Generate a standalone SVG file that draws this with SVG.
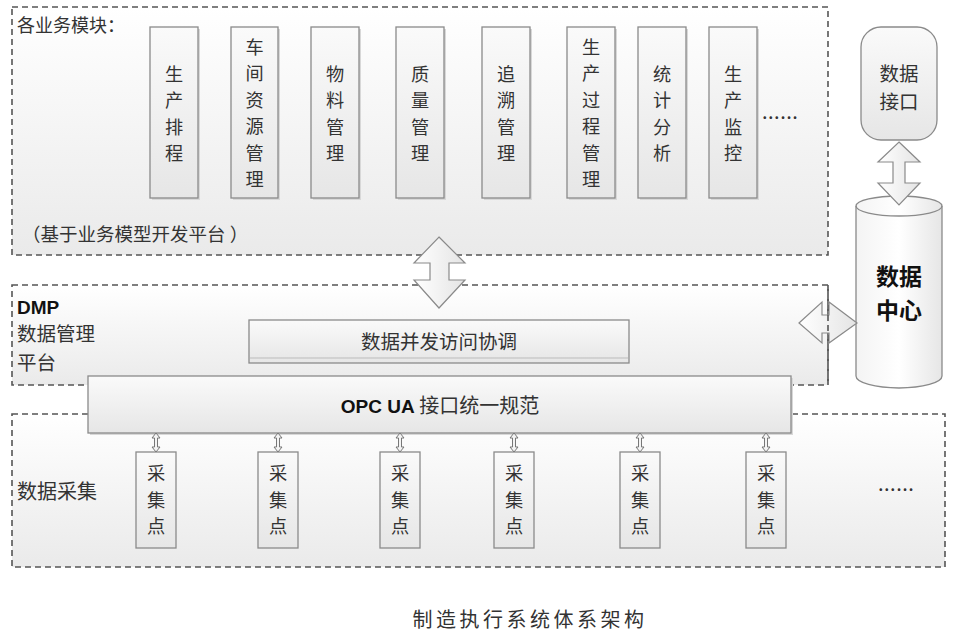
<svg xmlns="http://www.w3.org/2000/svg" width="956" height="637" viewBox="0 0 956 637">
<defs>
<linearGradient id="gPanel" x1="0" y1="0" x2="0" y2="1"><stop offset="0" stop-color="#ffffff"/><stop offset="1" stop-color="#eaeaea"/></linearGradient>
<linearGradient id="gBox" x1="0" y1="0" x2="0" y2="1"><stop offset="0" stop-color="#fafafa"/><stop offset="1" stop-color="#e6e6e6"/></linearGradient>
<linearGradient id="gArrow" x1="0" y1="0" x2="1" y2="0"><stop offset="0" stop-color="#ffffff"/><stop offset="1" stop-color="#e4e4e4"/></linearGradient>
<linearGradient id="gCyl" x1="0" y1="0" x2="1" y2="0"><stop offset="0" stop-color="#f4f4f4"/><stop offset="0.5" stop-color="#ffffff"/><stop offset="1" stop-color="#e6e6e6"/></linearGradient>
</defs>
<style>
.panel{fill:url(#gPanel);stroke:#555;stroke-width:1.6;stroke-dasharray:6 4}
.dash{fill:none;stroke:#555;stroke-width:1.6;stroke-dasharray:6 4}
.box{fill:url(#gBox);stroke:#8a8a8a;stroke-width:1.3}
.shadow{fill:#d8d8d8}
.arrow{fill:url(#gArrow);stroke:#8a8a8a;stroke-width:1.2}
.t{font-family:"Noto Sans CJK SC","Liberation Sans",sans-serif;fill:#333}
.m{font-size:18.2px;text-anchor:middle}
.c{font-size:18.2px;text-anchor:middle}
.b{font-family:"Liberation Sans","Noto Sans CJK SC",sans-serif;font-weight:bold;fill:#111}
</style>
<rect width="956" height="637" fill="#ffffff"/>

<g id="panel-modules">
<rect class="panel" x="12" y="7" width="816" height="248"/>
<text class="t" x="17" y="32" font-size="18">各业务模块：</text>
<text class="t" x="22" y="241" font-size="18.5">（基于业务模型开发平台 ）</text>
</g>

<g id="mod-1"><rect class="shadow" x="152" y="29" width="48" height="171"/><rect class="box" x="150" y="27" width="48" height="171"/>
<text class="t m"><tspan x="174" y="80.5">生</tspan><tspan x="174" y="107">产</tspan><tspan x="174" y="133.5">排</tspan><tspan x="174" y="160">程</tspan></text></g>
<g id="mod-2"><rect class="shadow" x="233" y="29" width="47" height="171"/><rect class="box" x="231" y="27" width="47" height="171"/>
<text class="t m"><tspan x="254.5" y="53.5">车</tspan><tspan x="254.5" y="80">间</tspan><tspan x="254.5" y="106.5">资</tspan><tspan x="254.5" y="133">源</tspan><tspan x="254.5" y="159.5">管</tspan><tspan x="254.5" y="186">理</tspan></text></g>
<g id="mod-3"><rect class="shadow" x="313" y="29" width="48" height="171"/><rect class="box" x="311" y="27" width="48" height="171"/>
<text class="t m"><tspan x="335" y="80.5">物</tspan><tspan x="335" y="107">料</tspan><tspan x="335" y="133.5">管</tspan><tspan x="335" y="160">理</tspan></text></g>
<g id="mod-4"><rect class="shadow" x="398" y="29" width="48" height="171"/><rect class="box" x="396" y="27" width="48" height="171"/>
<text class="t m"><tspan x="420" y="80.5">质</tspan><tspan x="420" y="107">量</tspan><tspan x="420" y="133.5">管</tspan><tspan x="420" y="160">理</tspan></text></g>
<g id="mod-5"><rect class="shadow" x="484" y="29" width="48" height="171"/><rect class="box" x="482" y="27" width="48" height="171"/>
<text class="t m"><tspan x="506" y="80.5">追</tspan><tspan x="506" y="107">溯</tspan><tspan x="506" y="133.5">管</tspan><tspan x="506" y="160">理</tspan></text></g>
<g id="mod-6"><rect class="shadow" x="569" y="29" width="48" height="171"/><rect class="box" x="567" y="27" width="48" height="171"/>
<text class="t m"><tspan x="591" y="53.5">生</tspan><tspan x="591" y="80">产</tspan><tspan x="591" y="106.5">过</tspan><tspan x="591" y="133">程</tspan><tspan x="591" y="159.5">管</tspan><tspan x="591" y="186">理</tspan></text></g>
<g id="mod-7"><rect class="shadow" x="640" y="29" width="48" height="171"/><rect class="box" x="638" y="27" width="48" height="171"/>
<text class="t m"><tspan x="662" y="80.5">统</tspan><tspan x="662" y="107">计</tspan><tspan x="662" y="133.5">分</tspan><tspan x="662" y="160">析</tspan></text></g>
<g id="mod-8"><rect class="shadow" x="711" y="29" width="48" height="171"/><rect class="box" x="709" y="27" width="48" height="171"/>
<text class="t m"><tspan x="733" y="80.5">生</tspan><tspan x="733" y="107">产</tspan><tspan x="733" y="133.5">监</tspan><tspan x="733" y="160">控</tspan></text></g>
<text class="t" x="762" y="119" font-size="20" letter-spacing="0.5">......</text>

<g id="panel-dmp">
<rect class="panel" x="12" y="285" width="816" height="100"/>
<text class="b" x="17" y="314" font-size="19">DMP</text>
<text class="t" font-size="19.5"><tspan x="17" y="341">数据管理</tspan><tspan x="17" y="370">平台</tspan></text>
</g>

<g id="box-concurrency">
<rect class="box" x="249" y="320" width="380" height="43"/>
<line x1="250" y1="358" x2="628" y2="358" stroke="#bbb" stroke-width="1"/>
<text class="t" x="439" y="349" font-size="19.5" text-anchor="middle">数据并发访问协调</text>
</g>

<g id="panel-collect">
<rect class="panel" x="12" y="414" width="933" height="153"/>
<text class="t" x="17" y="499" font-size="20">数据采集</text>
<text class="t" x="878" y="491" font-size="20" letter-spacing="0.5">......</text>
</g>

<g id="box-opcua">
<rect class="shadow" x="90" y="378" width="703" height="57"/>
<rect class="box" x="88" y="376" width="703" height="57"/>
<text x="440" y="413" text-anchor="middle"><tspan class="b" font-size="19">OPC UA</tspan><tspan class="t" font-size="20"> 接口统一规范</tspan></text>
</g>

<g id="cp-1"><rect class="box" x="136" y="452" width="40" height="96"/><text class="t c"><tspan x="156" y="480">采</tspan><tspan x="156" y="506.5">集</tspan><tspan x="156" y="533">点</tspan></text></g>
<g id="cp-2"><rect class="box" x="258" y="452" width="40" height="96"/><text class="t c"><tspan x="278" y="480">采</tspan><tspan x="278" y="506.5">集</tspan><tspan x="278" y="533">点</tspan></text></g>
<g id="cp-3"><rect class="box" x="380" y="452" width="40" height="96"/><text class="t c"><tspan x="400" y="480">采</tspan><tspan x="400" y="506.5">集</tspan><tspan x="400" y="533">点</tspan></text></g>
<g id="cp-4"><rect class="box" x="494" y="452" width="40" height="96"/><text class="t c"><tspan x="514" y="480">采</tspan><tspan x="514" y="506.5">集</tspan><tspan x="514" y="533">点</tspan></text></g>
<g id="cp-5"><rect class="box" x="620" y="452" width="40" height="96"/><text class="t c"><tspan x="640" y="480">采</tspan><tspan x="640" y="506.5">集</tspan><tspan x="640" y="533">点</tspan></text></g>
<g id="cp-6"><rect class="box" x="746" y="452" width="40" height="96"/><text class="t c"><tspan x="766" y="480">采</tspan><tspan x="766" y="506.5">集</tspan><tspan x="766" y="533">点</tspan></text></g>

<g id="data-interface">
<rect class="box" x="861" y="27" width="76" height="113" rx="20" ry="20"/>
<text class="t" font-size="19.5" text-anchor="middle"><tspan x="899" y="80.5">数据</tspan><tspan x="899" y="109">接口</tspan></text>
</g>

<g id="data-center">
<path d="M856,206 L856,376 A43,12 0 0 0 942,376 L942,206 A43,10 0 0 0 856,206 Z" fill="url(#gCyl)" stroke="#8a8a8a" stroke-width="1.3"/>
<path d="M856,206 A43,10 0 0 0 942,206" fill="none" stroke="#8a8a8a" stroke-width="1.3"/>
<text class="b" font-size="23" text-anchor="middle" font-family="Noto Sans CJK SC, sans-serif"><tspan x="899" y="285">数据</tspan><tspan x="899" y="318.5">中心</tspan></text>
</g>

<g id="connectors">
<polygon class="arrow" points="439,237 465,263 449,263 449,280 465,280 439,308 414,280 430,280 430,263 414,263"/>
<polygon class="arrow" points="899,142 920,162 905,162 905,183 920,183 899,205 878,183 893,183 893,162 878,162"/>
<polygon class="arrow" points="799,323 822,302 822,315 829,315 829,302 857,323 829,343 829,333 822,333 822,343"/>
<line class="dash" x1="828" y1="285" x2="828" y2="385"/>
<g fill="#f4f4f4" stroke="#777" stroke-width="1">
<polygon points="156,433 160,438 157.5,438 157.5,447 160,447 156,452 152,447 154.5,447 154.5,438 152,438"/>
<polygon points="278,433 282,438 279.5,438 279.5,447 282,447 278,452 274,447 276.5,447 276.5,438 274,438"/>
<polygon points="400,433 404,438 401.5,438 401.5,447 404,447 400,452 396,447 398.5,447 398.5,438 396,438"/>
<polygon points="514,433 518,438 515.5,438 515.5,447 518,447 514,452 510,447 512.5,447 512.5,438 510,438"/>
<polygon points="640,433 644,438 641.5,438 641.5,447 644,447 640,452 636,447 638.5,447 638.5,438 636,438"/>
<polygon points="766,433 770,438 767.5,438 767.5,447 770,447 766,452 762,447 764.5,447 764.5,438 762,438"/>
</g>
</g>

<text class="t" x="530" y="627" font-size="20" text-anchor="middle" letter-spacing="3.5">制造执行系统体系架构</text>
</svg>
